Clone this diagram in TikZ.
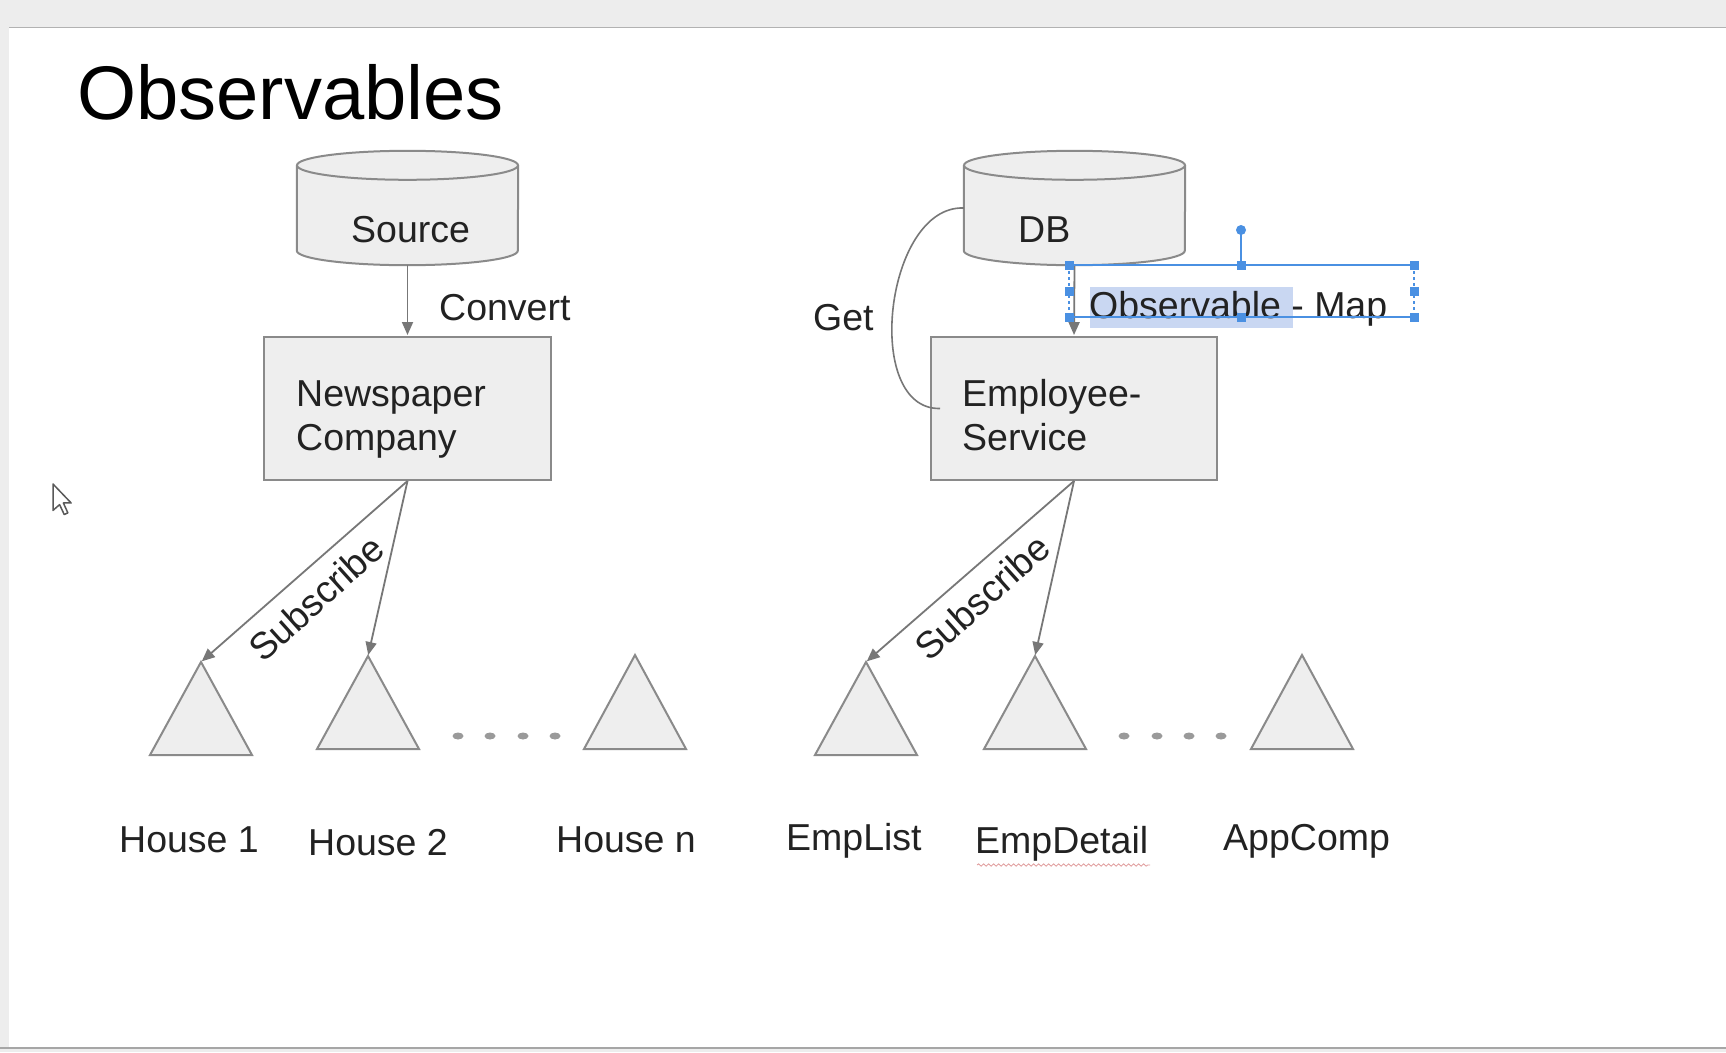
\documentclass[tikz,border=0pt]{standalone}
\usepackage{fontspec}
\setmainfont{Liberation Sans}
\usetikzlibrary{arrows.meta,decorations.pathmorphing}
\definecolor{shapefill}{HTML}{EEEEEE}
\definecolor{shapeline}{HTML}{8A8A8A}
\definecolor{arrline}{HTML}{777777}
\definecolor{txt}{HTML}{222222}
\definecolor{selblue}{HTML}{4A90E2}
\definecolor{hilite}{HTML}{C9D7F2}
\definecolor{pagegray}{HTML}{EDEDED}
\definecolor{dotgray}{HTML}{9A9A9A}
\definecolor{spell}{HTML}{E09A9A}
\newcommand{\mycyl}[1]{%
  \fill[shapefill] ([yshift=-14.5pt]#1.north west) -- ([yshift=14.5pt]#1.south west)
    arc[start angle=180,end angle=0,x radius=110.5,y radius=14.5]
    -- ([yshift=-14.5pt]#1.north east)
    arc[start angle=0,end angle=-180,x radius=110.5,y radius=14.5] -- cycle;
  \draw[draw=shapeline,line width=2pt] ([yshift=-14.5pt]#1.north west) -- ([yshift=14.5pt]#1.south west)
    arc[start angle=180,end angle=0,x radius=110.5,y radius=14.5]
    -- ([yshift=-14.5pt]#1.north east);
  \draw[draw=shapeline,line width=2pt] ([yshift=-14.5pt]#1.north) ellipse [x radius=110.5,y radius=14.5];
}
\begin{document}
\begin{tikzpicture}[x=1pt,y=-1pt,
  lbl/.style={inner sep=0pt, anchor=base west, text=txt, font=\fontsize{37.5}{40}\selectfont},
  boxnode/.style={draw=shapeline, fill=shapefill, line width=2pt, minimum width=#1, minimum height=143pt, inner sep=0pt},
  cylbox/.style={inner sep=0pt, minimum width=221pt, minimum height=114pt},
  arr/.style={draw=arrline, line width=1.8pt, -{Triangle[length=13pt,width=11pt]}, shorten >=1pt},
  conn/.style={draw=arrline, line width=1.6pt},
  tri/.style={draw=shapeline, fill=shapefill, line width=2pt, line join=miter},
  handle/.style={fill=selblue, minimum size=9pt, inner sep=0pt},
]
% page background
\path[use as bounding box] (0,0) rectangle (1726,1052);
\fill[pagegray] (0,0) rectangle (1726,1052);
\fill[white] (9,27) rectangle (1726,1047);
\draw[line width=1pt, draw=black!30] (9,27.5) -- (1726,27.5);
\draw[line width=1.5pt, draw=black!35] (0,1048) -- (1726,1048);

% title
\node[inner sep=0pt, anchor=base west, font=\fontsize{76}{80}\selectfont] (title) at (77,119) {Observables};

% ---------- left diagram ----------
\node[cylbox] (src) at (407.5,208) {};
\mycyl{src}
\node[lbl] (srct) at (351,242) {Source};

\node[boxnode=287pt] (np) at (407.5,408.5) {};
\node[lbl] (np1) at (296,406) {Newspaper};
\node[lbl] (np2) at (296,450) {Company};

\draw[arr] (src.south) -- (np.north);
\node[lbl] (conv) at (439,320) {Convert};

\coordinate (h1) at (201,662);
\coordinate (h2) at (368,656);
\coordinate (h3) at (635,655);
\draw[tri] (h1) -- ++(-51,93) -- ++(102,0) -- cycle;
\draw[tri] (h2) -- ++(-51,93) -- ++(102,0) -- cycle;
\draw[tri] (h3) -- ++(-51,94) -- ++(102,0) -- cycle;

\draw[arr] (np.south) -- (h1);
\draw[arr] (np.south) -- (h2);
\node[lbl, anchor=center, rotate=42] (sub1) at (316,598) {Subscribe};

\foreach \x in {458,490,523,555} \fill[dotgray] (\x,736) ellipse [x radius=5.5, y radius=3.5];

\node[lbl] (l1) at (119,852) {House 1};
\node[lbl] (l2) at (308,855) {House 2};
\node[lbl] (l3) at (556,852) {House n};

% ---------- right diagram ----------
\node[cylbox] (db) at (1074.5,208) {};
\mycyl{db}
\node[lbl] (dbt) at (1018,242) {DB};

\node[boxnode=286pt] (es) at (1074,408.5) {};
\node[lbl] (es1) at (962,406) {Employee-};
\node[lbl] (es2) at (962,450) {Service};

\draw[conn] (db.west) .. controls (885,205) and (862,410) .. ([xshift=10pt]es.west);
\node[lbl] (get) at (813,330) {Get};

\draw[arr] (db.south) -- (es.north);

\coordinate (e1) at (866,662);
\coordinate (e2) at (1035,656);
\coordinate (e3) at (1302,655);
\draw[tri] (e1) -- ++(-51,93) -- ++(102,0) -- cycle;
\draw[tri] (e2) -- ++(-51,93) -- ++(102,0) -- cycle;
\draw[tri] (e3) -- ++(-51,94) -- ++(102,0) -- cycle;

\draw[arr] (es.south) -- (e1);
\draw[arr] (es.south) -- (e2);
\node[lbl, anchor=center, rotate=42] (sub2) at (982,597) {Subscribe};

\foreach \x in {1124,1157,1189,1221} \fill[dotgray] (\x,736) ellipse [x radius=5.5, y radius=3.5];

\node[lbl] (r1) at (786,850) {EmpList};
\node[lbl] (r2) at (975,853) {EmpDetail};
\node[lbl] (r3) at (1223,850) {AppComp};
\draw[spell, line width=0.8pt, decorate, decoration={snake, amplitude=1.2pt, segment length=5pt}] (977,865) -- (1150,865);

% selected text box "Observable - Map"
\fill[hilite] (1090,287) rectangle (1293,328);
\node[lbl] (obs) at (1089,318) {Observable - Map};
\draw[selblue, line width=2pt] (1069,265) -- (1414,265);
\draw[selblue, line width=1.5pt] (1069,317) -- (1414,317);
\draw[selblue, line width=1.5pt, dashed] (1069,265) -- (1069,317);
\draw[selblue, line width=1.5pt, dashed] (1414,265) -- (1414,317);
\draw[selblue, line width=1.5pt] (1241,230) -- (1241,265);
\fill[selblue] (1241,230) circle (5);
\foreach \p in {(1069,265),(1241,265),(1414,265),(1069,291),(1414,291),(1069,317),(1241,317),(1414,317)}
  \node[handle] at \p {};

% mouse cursor
\draw[fill=white, draw=black!65, line width=1.5pt, line join=round, shift={(53,484)}, scale=1.65]
  (0,0) -- (0,16) -- (4,12.5) -- (6.8,18.5) -- (9,17.5) -- (6.3,11.5) -- (11,11.5) -- cycle;
\end{tikzpicture}
\end{document}
